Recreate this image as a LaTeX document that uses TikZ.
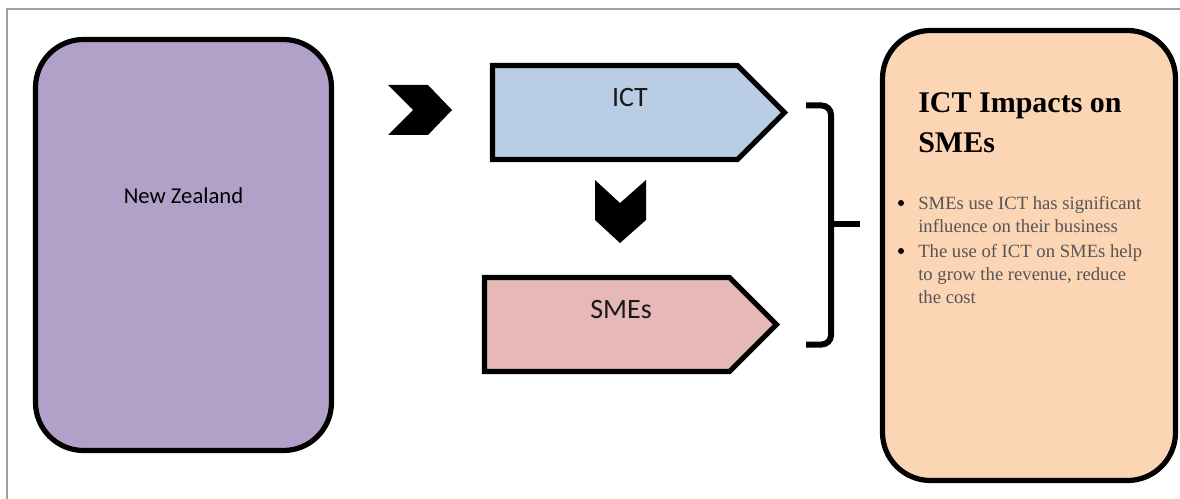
\documentclass[tikz,border=0pt]{standalone}
\usepackage{fontspec}
\setmainfont{Liberation Serif}
\newfontfamily\labelfont{Carlito}
\usetikzlibrary{shapes.symbols}

\definecolor{nzpurple}{HTML}{B1A0C7}
\definecolor{ictblue}{HTML}{B9CDE5}
\definecolor{smepink}{HTML}{E6B9B8}
\definecolor{impactorange}{HTML}{FCD5B5}
\definecolor{framegray}{HTML}{A0A0A0}
\definecolor{bodygray}{HTML}{555555}

\begin{document}
\begin{tikzpicture}[x=0.75pt, y=-0.75pt,
  roundbox/.style={draw=black, line width=3.9pt, rounded corners=36pt, inner sep=0pt},
  arrowbox/.style={signal, signal to=east, draw=black, line width=3.9pt, inner sep=0pt,
    minimum height=70.5pt},
  chevron/.style={fill=black, draw=none},
  bracketline/.style={draw=black, line width=4.5pt},
  boxlabel/.style={font=\labelfont\fontsize{21}{25}\selectfont, text=black!90},
  bodytext/.style={anchor=base west, align=left, text=bodygray, inner sep=0pt,
    font=\fontsize{14}{17}\selectfont},
  dot/.style={circle, fill=black, inner sep=0pt, minimum size=4.5pt}
]
\useasboundingbox (0,0) rectangle (1180,499);

% page frame
\draw[framegray, line width=0.8pt] (7,499) -- (7,9) -- (1180,9);

% left panel
\node[roundbox, fill=nzpurple, minimum width=222pt, minimum height=308.25pt] (nz) at (183.5,245) {};
\node[font=\labelfont\fontsize{17}{20}\selectfont, text=black] (nzlabel) at (183.5,196) {New Zealand};

% ICT and SMEs arrow boxes (node centre = centre of the rectangular part)
\node[arrowbox, fill=ictblue, minimum width=219pt] (ict) at (615,112.5) {};
\node[boxlabel] (ictlabel) at (630,97.5) {ICT};
\node[arrowbox, fill=smepink, minimum width=219pt] (sme) at (607,324.5) {};
\node[boxlabel] (smelabel) at (621,310) {SMEs};

% chevrons
\fill[chevron] (388,85) -- (428,85) -- (452,110) -- (428,135) -- (388,135) -- (413,110) -- cycle;
\fill[chevron] (595,180) -- (620,203) -- (646,180) -- (646,220) -- (620,243) -- (595,220) -- cycle;

% bracket grouping the two arrow boxes
\coordinate (btop) at (806,105.5);
\coordinate (bbot) at (806,344.5);
\coordinate (bmid) at (831,224);
\coordinate (btip) at (860,224);
\draw[bracketline, rounded corners=7pt] (btop) -- (831,105.5) -- (831,344.5) -- (bbot);
\draw[bracketline] (bmid) -- (btip);

% right panel (multi-line nodes are anchored at the baseline of their last line)
\node[roundbox, fill=impactorange, minimum width=219.75pt, minimum height=337.5pt] (impact) at (1029,255.5) {};
\node[anchor=base west, align=left, inner sep=0pt,
      font=\bfseries\fontsize{22.5}{29.25}\selectfont] (title) at (918,152) {ICT Impacts on\\SMEs};
\node[dot] (dot1) at (901,203) {};
\node[bodytext] (item1) at (918,232) {SMEs use ICT has significant\\influence on their business};
\node[dot] (dot2) at (901,251) {};
\node[bodytext] (item2) at (918,303) {The use of ICT on SMEs help\\to grow the revenue, reduce\\the cost};
\end{tikzpicture}
\end{document}
